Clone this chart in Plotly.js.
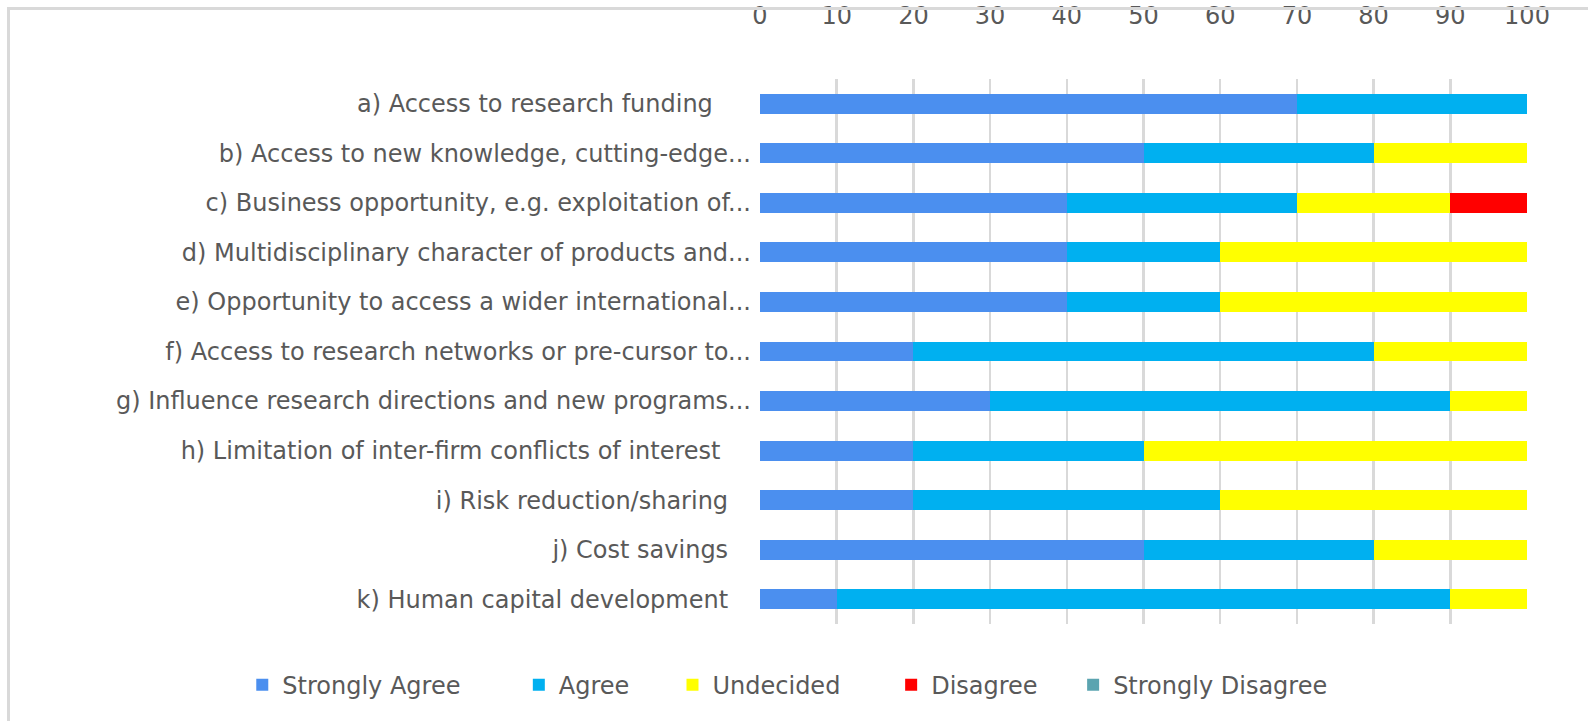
<!DOCTYPE html>
<html>
<head>
<meta charset="utf-8">
<script src="https://cdn.plot.ly/plotly-3.0.1.min.js"></script>
<style>
  html, body { margin: 0; padding: 0; background: #ffffff; }
  #chart { width: 1588px; height: 721px; position: relative; }
  #frame { position: absolute; left: 7px; top: 7px; width: 1700px; height: 900px;
           border-left: 3px solid #d9d9d9; border-top: 3px solid #d9d9d9; pointer-events: none; }
  #wrap { position: relative; width: 1588px; height: 721px; overflow: hidden; }
</style>
</head>
<body>
<div id="wrap">
  <div id="chart"></div>
  <div id="frame"></div>
</div>
<script>
const categories = [
  "a) Access to research funding\u00a0\u00a0\u00a0\u00a0\u00a0",
  "b) Access to new knowledge, cutting-edge...",
  "c) Business opportunity, e.g. exploitation of...",
  "d) Multidisciplinary character of products and...",
  "e) Opportunity to access a wider international...",
  "f) Access to research networks or pre-cursor to...",
  "g) Influence research directions and new programs...",
  "h) Limitation of inter-firm conflicts of interest\u00a0\u00a0\u00a0\u00a0",
  "i) Risk reduction/sharing\u00a0\u00a0\u00a0",
  "j) Cost savings\u00a0\u00a0\u00a0",
  "k) Human capital development\u00a0\u00a0\u00a0"
];
const seriesNames = ["Strongly Agree", "Agree", "Undecided", "Disagree", "Strongly Disagree"];
const stronglyAgree    = [70, 50, 40, 40, 40, 20, 30, 20, 20, 50, 10];
const agree            = [30, 30, 30, 20, 20, 60, 60, 30, 40, 30, 80];
const undecided        = [0, 20, 20, 40, 40, 20, 10, 50, 40, 20, 10];
const disagree         = [0, 0, 10, 0, 0, 0, 0, 0, 0, 0, 0];
const stronglyDisagree = [0, 0, 0, 0, 0, 0, 0, 0, 0, 0, 0];
const xTicks = [0, 10, 20, 30, 40, 50, 60, 70, 80, 90, 100];

const colors = ["#4b8fef", "#00b0f0", "#ffff00", "#ff0000", "#5ba4b0"];
const values = [stronglyAgree, agree, undecided, disagree, stronglyDisagree];
// extra trailing spacing after each legend entry, to match the reference legend spacing
const legendPad = [7, 5, 6, 4, 0];

const textFont = { family: "DejaVu Sans, sans-serif", size: 24, color: "#595959" };

const traces = values.map((v, i) => ({
  type: "bar",
  orientation: "h",
  name: seriesNames[i] + "\u00a0".repeat(legendPad[i]),
  x: v,
  y: categories,
  marker: { color: colors[i], line: { width: 0 } },
  hoverinfo: "x+name"
}));

const layout = {
  width: 1588,
  height: 721,
  barmode: "stack",
  bargap: 0.597,
  paper_bgcolor: "#ffffff",
  plot_bgcolor: "#ffffff",
  margin: { l: 760, r: 61, t: 79, b: 97, autoexpand: false },
  font: textFont,
  showlegend: true,
  legend: {
    orientation: "h",
    xref: "paper",
    yref: "paper",
    x: -0.675,
    xanchor: "left",
    y: -0.112,
    yanchor: "middle",
    font: textFont,
    traceorder: "normal",
    itemwidth: 30
  },
  xaxis: {
    side: "top",
    range: [0, 100],
    tickvals: xTicks,
    ticktext: xTicks.map(String),
    showgrid: true,
    gridcolor: "#d9d9d9",
    gridwidth: 2.5,
    zeroline: false,
    showline: false,
    ticks: "outside",
    ticklen: 44,
    tickcolor: "rgba(0,0,0,0)",
    tickfont: textFont,
    fixedrange: true
  },
  yaxis: {
    type: "category",
    autorange: "reversed",
    showgrid: false,
    zeroline: false,
    showline: false,
    ticks: "",
    ticklabelstandoff: 8,
    tickfont: textFont,
    fixedrange: true
  }
};

Plotly.newPlot("chart", traces, layout, { displayModeBar: false, staticPlot: true });
</script>
</body>
</html>
